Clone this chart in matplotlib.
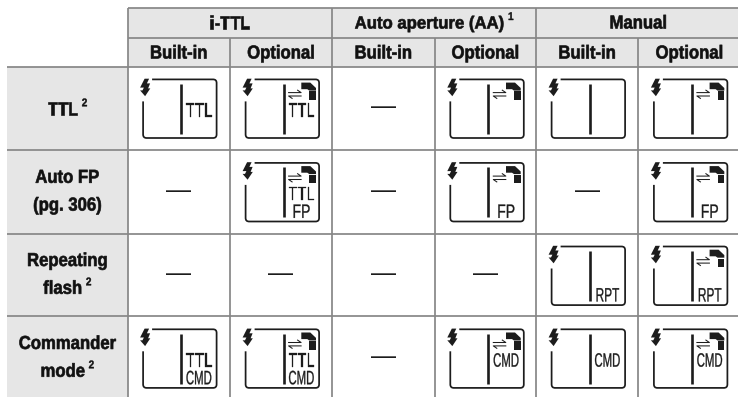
import matplotlib
matplotlib.use("Agg")
import matplotlib.pyplot as plt
from matplotlib.patches import Rectangle, PathPatch, Polygon
from matplotlib.path import Path
from matplotlib.patheffects import AbstractPathEffect
from matplotlib.transforms import Affine2D

# ---- table content ----
# (text, footnote mark)
group_labels = [("i-TTL", ""), ("Auto aperture (AA)", "1"), ("Manual", "")]
sub_labels = ["Built-in", "Optional"] * 3
# every row title is a list of lines: (text, footnote mark)
row_labels = [
    [("TTL", "2")],
    [("Auto FP", ""), ("(pg. 306)", "")],
    [("Repeating", ""), ("flash", "2")],
    [("Commander", ""), ("mode", "2")],
]
DASH = None
# every cell: None = dash, otherwise (upper display text, lower display text)
row_ttl = [("TTL", ""), ("TTL", ""), DASH, ("", ""), ("", ""), ("", "")]
row_fp = [DASH, ("TTL", "FP"), DASH, ("", "FP"), DASH, ("", "FP")]
row_rpt = [DASH, DASH, DASH, DASH, ("", "RPT"), ("", "RPT")]
row_cmd = [("TTL", "CMD"), ("TTL", "CMD"), DASH, ("CMD", ""), ("CMD", ""), ("CMD", "")]
cells = [row_ttl, row_fp, row_rpt, row_cmd]
optional_unit = [False, True, False, True, False, True]

# ---- layout (pixels) ----
col_x = [127.5, 230, 332, 434.7, 536, 638.3, 740.5]
row_y = [66.5, 150, 233.6, 316.4, 399.5]
header_y = [8, 37.5, 66.5]
left_x = 7
LINE = "#878787"
BG = "#e6e6e6"
INK = "#1c1c1c"
FONT = ["Liberation Sans", "DejaVu Sans"]
HEAD_SIZE = 13.5
HEAD_SQUEEZE = 0.89
# horizontal squeeze that imitates the condensed face of the original
ICON_SQUEEZE = {"TTL": 0.77, "CMD": 0.585, "RPT": 0.61, "FP": 0.72}


class Squeeze(AbstractPathEffect):
    """Narrow a line of text about its own centre; embolden a little if asked."""

    def __init__(self, factor, extra=0.0):
        super().__init__()
        self.factor, self.extra = factor, extra

    def draw_path(self, renderer, gc, tpath, affine, rgbFace):
        v = tpath.vertices
        mid = (v[:, 0].min() + v[:, 0].max()) / 2 if len(v) else 0
        squeezed = Affine2D().translate(-mid, 0).scale(self.factor, 1).translate(mid, 0) + affine
        gc0 = renderer.new_gc()
        gc0.copy_properties(gc)
        gc0.set_linewidth(self.extra)
        if self.extra:
            gc0.set_foreground(rgbFace)
        renderer.draw_path(gc0, tpath, squeezed, rgbFace)
        gc0.restore()


fig = plt.figure(figsize=(7.38, 3.97), dpi=100)
ax = fig.add_axes([0, 0, 1, 1])
ax.set_xlim(0, 738)
ax.set_ylim(397, 0)
ax.axis("off")
renderer = fig.canvas.get_renderer()

# backgrounds
ax.add_patch(Rectangle((col_x[0], header_y[0]), 738 - col_x[0], header_y[2] - header_y[0], fc=BG, ec="none"))
ax.add_patch(Rectangle((left_x, row_y[0]), col_x[0] - left_x, 397 - row_y[0], fc=BG, ec="none"))

# grid lines
lw = 1.25
for y in header_y[:2]:
    ax.plot([col_x[0], 738], [y, y], color=LINE, lw=lw, solid_capstyle="butt")
for y in row_y[:-1]:
    ax.plot([left_x, 738], [y, y], color=LINE, lw=lw, solid_capstyle="butt")
for i, x in enumerate(col_x[:-1]):
    top = header_y[0] if i % 2 == 0 else header_y[1]
    ax.plot([x, x], [top, 397], color=LINE, lw=lw, solid_capstyle="butt")


def label(x, y, s, squeeze=1.0, extra=0.0, **kw):
    t = ax.text(x, y, s, ha="center", va="baseline", family=FONT, **kw)
    if squeeze != 1.0 or extra:
        t.set_path_effects([Squeeze(squeeze, extra)])
    return t


MARK = dict(fontsize=8, fontweight="bold", color="#111111", squeeze=0.9, extra=0.3)


def head_line(cx, base, s, mark, size=HEAD_SIZE, squeeze=HEAD_SQUEEZE):
    """A bold heading line, with its raised footnote figure if it has one."""
    shift = 4.5 if mark else 0
    t = label(cx - shift, base, s, fontsize=size, fontweight="bold", color="#111111",
              squeeze=squeeze, extra=0.45)
    if mark:
        w = t.get_window_extent(renderer).width * squeeze
        label(cx - shift + w / 2 + 6.5, base - 8.5, mark, **MARK)


# headers
for i, (s, mark) in enumerate(group_labels):
    cx = (col_x[2 * i] + col_x[2 * i + 2]) / 2
    if mark:
        head_line(cx, 28.5, s, mark, size=12.6, squeeze=0.955)
    else:
        head_line(cx, 28.5, s, mark)
for i, s in enumerate(sub_labels):
    head_line((col_x[i] + col_x[i + 1]) / 2, 58.5, s, "")
for r, lines in enumerate(row_labels):
    mid = (row_y[r] + row_y[r + 1]) / 2
    bases = [mid + 6.5] if len(lines) == 1 else [mid - 9, mid + 18.8]
    for (s, mark), base in zip(lines, bases):
        head_line((left_x + col_x[0]) / 2, base, s, mark)


def draw_icon(left, top, upper, lower, remote):
    W, H, R = 73.5, 58.6, 3.5
    right, bottom = left + W, top + H
    verts = [(left, top + 22), (left, bottom - R), (left, bottom), (left + R, bottom),
             (right - R, bottom), (right, bottom), (right, bottom - R),
             (right, top + R), (right, top), (right - R, top), (left + 9, top)]
    codes = [Path.MOVETO, Path.LINETO, Path.CURVE3, Path.CURVE3, Path.LINETO, Path.CURVE3, Path.CURVE3,
             Path.LINETO, Path.CURVE3, Path.CURVE3, Path.LINETO]
    ax.add_patch(PathPatch(Path(verts, codes), fc="none", ec=INK, lw=1.25, capstyle="butt"))
    # divider bar
    ax.plot([left + 38, left + 38], [top + 4.3, top + 54.5], color=INK, lw=1.9, solid_capstyle="butt")
    # flash bolt with its arrow
    bolt = [(1.5, -0.7), (6.0, -0.7), (3.8, 4.0), (7.0, 4.0), (5.0, 9.0), (7.2, 9.0), (2.0, 16.8),
            (-3.0, 11.0), (-0.6, 11.0), (0.8, 8.2), (-3.0, 8.2)]
    ax.add_patch(Polygon([(left + a, top + b) for a, b in bolt], closed=True, fc=INK, ec="none"))
    if remote:
        head = [(55.7, 3.2), (64.7, 3.2), (70.4, 8.6), (70.4, 11.2), (63.7, 11.2), (61.7, 9.8), (55.7, 9.8)]
        body = [(63.7, 12.0), (70.4, 12.0), (70.4, 20.3), (63.7, 20.3)]
        for poly in (head, body):
            ax.add_patch(Polygon([(left + a, top + b) for a, b in poly], closed=True, fc=INK, ec="none"))
        ax.plot([left + 43, left + 55.5, left + 52], [top + 13.2, top + 13.2, top + 10.8], color=INK, lw=0.75)
        ax.plot([left + 55.5, left + 43, left + 46.5], [top + 16.6, top + 16.6, top + 19], color=INK, lw=0.75)
    for s, base in ((upper, 37.4), (lower, 55)):
        if s:
            label(left + 56, top + base, s, squeeze=ICON_SQUEEZE[s], extra=0.2, fontsize=14, color=INK)


for r, row in enumerate(cells):
    for c, cell in enumerate(row):
        cx = (col_x[c] + col_x[c + 1]) / 2
        if cell is None:
            label(cx, (row_y[r] + row_y[r + 1]) / 2 + 6.0, "—", fontsize=18, color=INK)
        else:
            draw_icon(col_x[c] + 15.6, row_y[r] + 12.9, cell[0], cell[1], optional_unit[c])

fig.savefig("out.png", dpi=100, facecolor="white")
